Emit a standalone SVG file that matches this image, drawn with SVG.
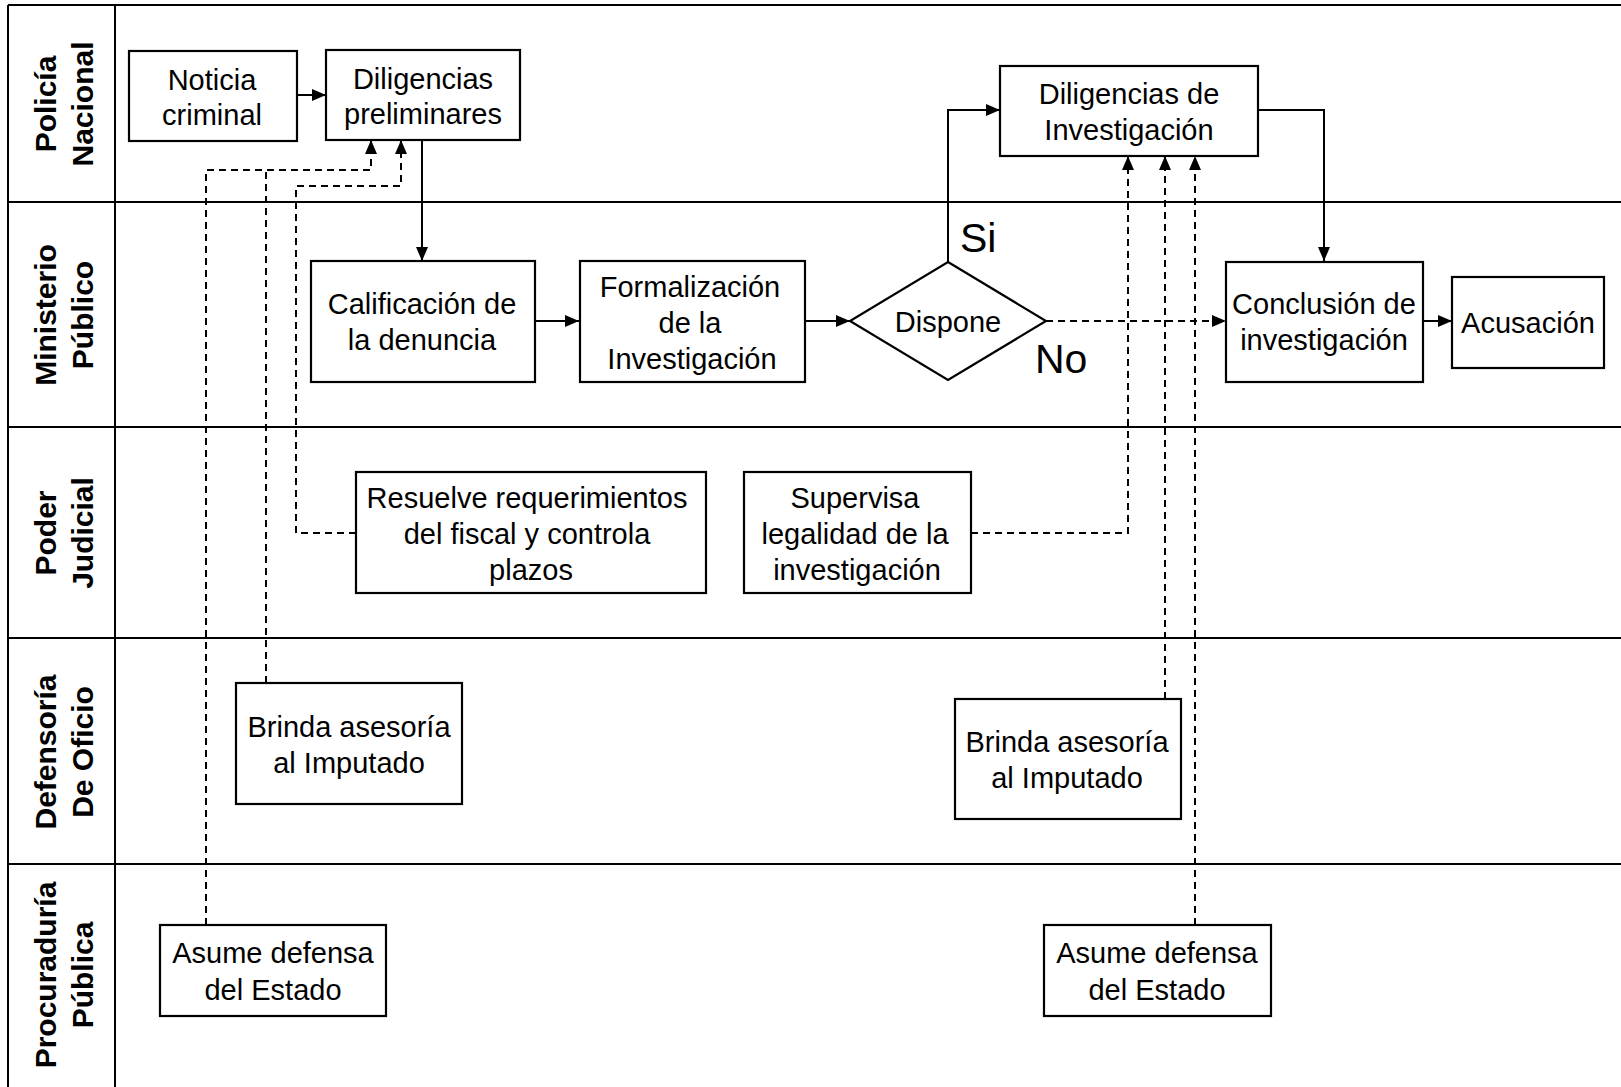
<svg xmlns="http://www.w3.org/2000/svg" width="1621" height="1087" viewBox="0 0 1621 1087">
<style>
.frame{stroke:#000;stroke-width:2;fill:none}
.box{fill:#fff;stroke:#000;stroke-width:2.2}
.t{font-family:"Liberation Sans",Arial,sans-serif;font-size:29px;fill:#000;text-anchor:middle}
.lane{font-family:"Liberation Sans",Arial,sans-serif;font-size:30px;font-weight:bold;fill:#000;text-anchor:middle}
.big{font-family:"Liberation Sans",Arial,sans-serif;font-size:41px;fill:#000}
.c{fill:none;stroke:#000;stroke-width:2}
.d{fill:none;stroke:#000;stroke-width:2;stroke-dasharray:7 5}
</style>
<defs>
<marker id="ah" markerWidth="14" markerHeight="12" refX="14" refY="6" orient="auto" markerUnits="userSpaceOnUse">
<path d="M0,0 L14,6 L0,12 z" fill="#000"/>
</marker>
</defs>
<rect width="1621" height="1087" fill="#fff"/>

<g id="lanes">
<line class="frame" x1="8" y1="5" x2="1621" y2="5"/>
<line class="frame" x1="8" y1="5" x2="8" y2="1087"/>
<line class="frame" x1="115" y1="5" x2="115" y2="1087"/>
<line class="frame" x1="8" y1="202" x2="1621" y2="202"/>
<line class="frame" x1="8" y1="427" x2="1621" y2="427"/>
<line class="frame" x1="8" y1="638" x2="1621" y2="638"/>
<line class="frame" x1="8" y1="864" x2="1621" y2="864"/>
<text class="lane" transform="translate(56,104) rotate(-90)"><tspan x="0" y="0">Policía</tspan><tspan x="0" y="37">Nacional</tspan></text>
<text class="lane" transform="translate(56,315) rotate(-90)"><tspan x="0" y="0">Ministerio</tspan><tspan x="0" y="37">Público</tspan></text>
<text class="lane" transform="translate(56,533) rotate(-90)"><tspan x="0" y="0">Poder</tspan><tspan x="0" y="37">Judicial</tspan></text>
<text class="lane" transform="translate(56,752) rotate(-90)"><tspan x="0" y="0">Defensoría</tspan><tspan x="0" y="37">De Oficio</tspan></text>
<text class="lane" transform="translate(56,975) rotate(-90)"><tspan x="0" y="0">Procuraduría</tspan><tspan x="0" y="37">Pública</tspan></text>
</g>

<g id="connectors">
<path class="c" d="M297,95 H326" marker-end="url(#ah)"/>
<path class="c" d="M422,140 V261" marker-end="url(#ah)"/>
<path class="c" d="M534,321 H579" marker-end="url(#ah)"/>
<path class="c" d="M805,321 H850" marker-end="url(#ah)"/>
<path class="c" d="M948,262 V110 H1000" marker-end="url(#ah)"/>
<path class="c" d="M1258,110 H1324 V261" marker-end="url(#ah)"/>
<path class="d" d="M1046,321 H1226" marker-end="url(#ah)"/>
<path class="c" d="M1423,321 H1452" marker-end="url(#ah)"/>
<path class="d" d="M206,925 V170 H371 V140" marker-end="url(#ah)"/>
<path class="d" d="M266,683 V170"/>
<path class="d" d="M356,533 H296 V186 H401 V140" marker-end="url(#ah)"/>
<path class="d" d="M971,533 H1128 V156" marker-end="url(#ah)"/>
<path class="d" d="M1165,699 V156" marker-end="url(#ah)"/>
<path class="d" d="M1195,925 V156" marker-end="url(#ah)"/>
<text class="big" x="960" y="252">Si</text>
<text class="big" x="1035" y="373">No</text>
</g>

<g id="noticia">
<rect class="box" x="129" y="51" width="168" height="90"/>
<text class="t" x="212" y="90">Noticia</text>
<text class="t" x="212" y="125">criminal</text>
</g>
<g id="diligencias-preliminares">
<rect class="box" x="326" y="50" width="194" height="90"/>
<text class="t" x="423" y="89">Diligencias</text>
<text class="t" x="423" y="124">preliminares</text>
</g>
<g id="calificacion">
<rect class="box" x="311" y="261" width="224" height="121"/>
<text class="t" x="422" y="314">Calificación de</text>
<text class="t" x="422" y="350">la denuncia</text>
</g>
<g id="formalizacion">
<rect class="box" x="580" y="261" width="225" height="121"/>
<text class="t" x="690" y="297">Formalización</text>
<text class="t" x="690" y="333">de la</text>
<text class="t" x="692" y="369">Investigación</text>
</g>
<g id="dispone">
<polygon class="box" points="948,262 1046,321 948,380 850,321"/>
<text class="t" x="948" y="332">Dispone</text>
</g>
<g id="diligencias-investigacion">
<rect class="box" x="1000" y="66" width="258" height="90"/>
<text class="t" x="1129" y="104">Diligencias de</text>
<text class="t" x="1129" y="140">Investigación</text>
</g>
<g id="conclusion">
<rect class="box" x="1226" y="262" width="197" height="120"/>
<text class="t" x="1324" y="314">Conclusión de</text>
<text class="t" x="1324" y="350">investigación</text>
</g>
<g id="acusacion">
<rect class="box" x="1452" y="277" width="152" height="91"/>
<text class="t" x="1528" y="333">Acusación</text>
</g>
<g id="resuelve">
<rect class="box" x="356" y="472" width="350" height="121"/>
<text class="t" x="527" y="508">Resuelve requerimientos</text>
<text class="t" x="527" y="544">del fiscal y controla</text>
<text class="t" x="531" y="580">plazos</text>
</g>
<g id="supervisa">
<rect class="box" x="744" y="472" width="227" height="121"/>
<text class="t" x="855" y="508">Supervisa</text>
<text class="t" x="855" y="544">legalidad de la</text>
<text class="t" x="857" y="580">investigación</text>
</g>
<g id="brinda-1">
<rect class="box" x="236" y="683" width="226" height="121"/>
<text class="t" x="349" y="737">Brinda asesoría</text>
<text class="t" x="349" y="773">al Imputado</text>
</g>
<g id="brinda-2">
<rect class="box" x="955" y="699" width="226" height="120"/>
<text class="t" x="1067" y="752">Brinda asesoría</text>
<text class="t" x="1067" y="788">al Imputado</text>
</g>
<g id="asume-1">
<rect class="box" x="160" y="925" width="226" height="91"/>
<text class="t" x="273" y="963">Asume defensa</text>
<text class="t" x="273" y="1000">del Estado</text>
</g>
<g id="asume-2">
<rect class="box" x="1044" y="925" width="227" height="91"/>
<text class="t" x="1157" y="963">Asume defensa</text>
<text class="t" x="1157" y="1000">del Estado</text>
</g>
</svg>
